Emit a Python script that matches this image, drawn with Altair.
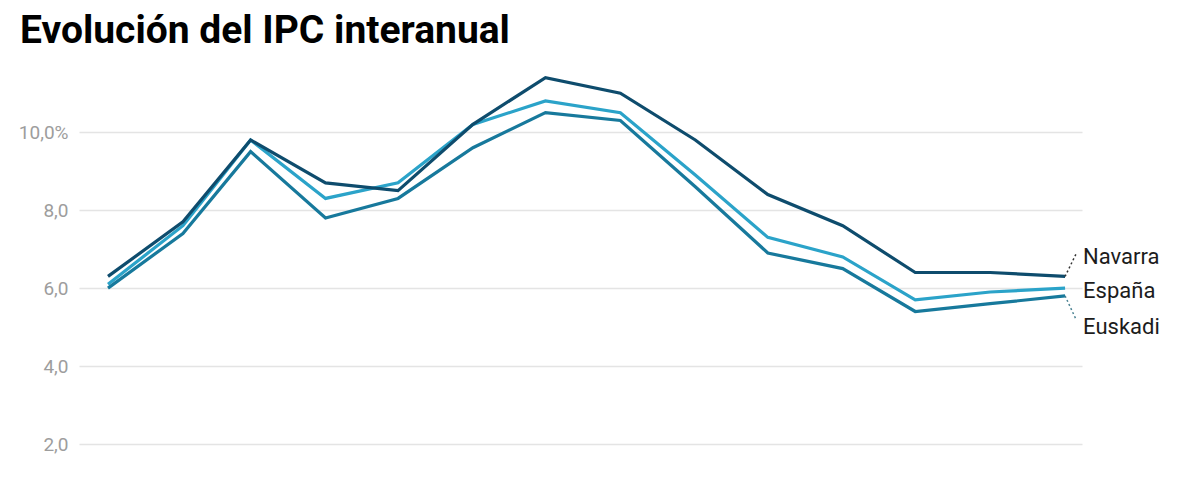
import altair as alt
import pandas as pd

# ---- data ----
months = ["2022-01-01", "2022-02-01", "2022-03-01", "2022-04-01", "2022-05-01",
          "2022-06-01", "2022-07-01", "2022-08-01", "2022-09-01", "2022-10-01",
          "2022-11-01", "2022-12-01", "2023-01-01", "2023-02-01"]
navarra = [6.3, 7.7, 9.8, 8.7, 8.5, 10.2, 11.4, 11.0, 9.8, 8.4, 7.6, 6.4, 6.4, 6.3]
espana = [6.1, 7.6, 9.8, 8.3, 8.7, 10.2, 10.8, 10.5, 8.9, 7.3, 6.8, 5.7, 5.9, 6.0]
euskadi = [6.0, 7.4, 9.5, 7.8, 8.3, 9.6, 10.5, 10.3, 8.6, 6.9, 6.5, 5.4, 5.6, 5.8]
series_names = ["España", "Euskadi", "Navarra"]
series_colors = ["#2ba3c9", "#17799c", "#0e4c6d"]
y_ticks = [2, 4, 6, 8, 10]

rows = []
for name, vals in zip(series_names, [espana, euskadi, navarra]):
    for m, v in zip(months, vals):
        rows.append({"fecha": m, "serie": name, "valor": v})
df = pd.DataFrame(rows)

last = df[df["fecha"] == months[-1]].copy()

# leader lines for the shifted end labels (layout offsets, derived in code)
lead_shift = {"Navarra": 0.57, "Euskadi": -0.6}
lead_color = {"Navarra": "#333333", "Euskadi": "#4a8292"}
leaders = last[last["serie"].isin(lead_shift)].copy()
leaders["fecha2"] = (pd.to_datetime(leaders["fecha"]) + pd.Timedelta(days=4.5)).dt.strftime("%Y-%m-%dT%H:%M:%S")
leaders["valor2"] = leaders["valor"] + leaders["serie"].map(lead_shift)
leaders["lc"] = leaders["serie"].map(lead_color)

label_dy = {"Navarra": -12, "España": 10, "Euskadi": 38}

x_scale = alt.Scale(type="utc", domain=[
    alt.DateTime(year=2021, month=12, date=20, utc=True),
    alt.DateTime(year=2023, month=2, date=8, utc=True)])
y_scale = alt.Scale(domain=[1, 11.8], nice=False, zero=False)

x_enc = alt.X("fecha:T", scale=x_scale, axis=None)
y_enc = alt.Y("valor:Q", scale=y_scale, axis=alt.Axis(
    values=y_ticks, grid=True, gridColor="#e4e4e4", gridWidth=1.5,
    domain=False, ticks=False, labelPadding=11, labelFontSize=19,
    labelColor="#9d9d9d", labelFont="Roboto", title=None,
    labelExpr="datum.value == 10 ? '10,0%' : replace(format(datum.value, '.1f'), '.', ',')"))

lines = alt.Chart(df).mark_line(strokeWidth=3.2, strokeJoin="miter").encode(
    x=x_enc, y=y_enc,
    color=alt.Color("serie:N", scale=alt.Scale(domain=series_names, range=series_colors), legend=None),
)

lead = alt.Chart(leaders).mark_rule(strokeWidth=1.5, strokeDash=[2, 2.5]).encode(
    x=alt.X("fecha:T", scale=x_scale, axis=None),
    x2="fecha2:T",
    y=alt.Y("valor:Q", scale=y_scale),
    y2="valor2:Q",
    color=alt.Color("lc:N", scale=None),
)

texts = []
for name in series_names:
    texts.append(
        alt.Chart(last[last["serie"] == name]).mark_text(
            align="left", baseline="alphabetic", dx=18, dy=label_dy[name],
            fontSize=22, font="Roboto", color="#1c1c1c", clip=False
        ).encode(x=alt.X("fecha:T", scale=x_scale, axis=None),
                 y=alt.Y("valor:Q", scale=y_scale), text="serie:N")
    )

chart = alt.layer(lines, lead, *texts).properties(
    width=1003, height=421,
    autosize=alt.AutoSizeParams(type="none"),
    padding={"left": 71, "top": 54, "right": 110, "bottom": 0},
    title=alt.TitleParams("Evolución del IPC interanual", anchor="start", frame="group",
                          dx=-59, dy=20, offset=0, fontSize=39, font="Roboto",
                          fontWeight="bold", color="#000000", baseline="alphabetic"),
    background="white",
).configure_view(stroke=None)

chart.save("out.html", embed_options={"renderer": "svg", "actions": False})
